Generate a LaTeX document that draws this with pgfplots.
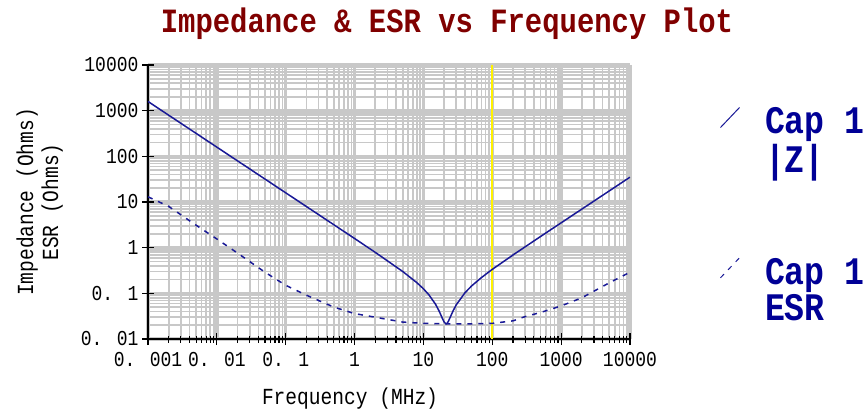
\documentclass[border=0pt]{standalone}
\usepackage{fontspec}
\setmainfont{Liberation Mono}[FakeStretch=0.85]
\usepackage{pgfplots}
\pgfplotsset{compat=1.18}
\definecolor{gridgray}{RGB}{200,200,200}
\definecolor{curveblue}{RGB}{25,25,150}
\definecolor{titlered}{RGB}{128,0,0}
\definecolor{legblue}{RGB}{0,0,150}

\begin{document}
\begin{tikzpicture}
\begin{axis}[
    at={(0,0)}, anchor=south west,
    scale only axis, width=482pt, height=274pt,
    xmode=log, ymode=log,
    xmin=0.001, xmax=10000, ymin=0.01, ymax=10000,
    axis x line*=bottom, axis y line*=left,
    axis line style={black, line width=1.3pt},
    xtick={0.001,0.01,0.1,1,10,100,1000,10000},
    xticklabels={0. 001,0. 01,0. 1,1,10,100,1000,10000},
    ytick={0.01,0.1,1,10,100,1000,10000},
    yticklabels={0. 01,0. 1,1,10,100,1000,10000},
    minor xtick={0.002,0.003,0.004,0.005,0.006,0.007,0.008,0.009,
        0.02,0.03,0.04,0.05,0.06,0.07,0.08,0.09,
        0.2,0.3,0.4,0.5,0.6,0.7,0.8,0.9,
        2,3,4,5,6,7,8,9,
        20,30,40,50,60,70,80,90,
        200,300,400,500,600,700,800,900,
        2000,3000,4000,5000,6000,7000,8000,9000},
    minor ytick={0.02,0.03,0.04,0.05,0.06,0.07,0.08,0.09,
        0.2,0.3,0.4,0.5,0.6,0.7,0.8,0.9,
        2,3,4,5,6,7,8,9,
        20,30,40,50,60,70,80,90,
        200,300,400,500,600,700,800,900,
        2000,3000,4000,5000,6000,7000,8000,9000},
    grid=both,
    major grid style={gridgray, line width=3.5pt},
    minor grid style={gridgray, line width=1.6pt},
    tick align=center,
    major tick length=12pt, minor tick length=7pt,
    every tick/.append style={black, line width=1.2pt},
    minor y tick style={draw=none},
    tick label style={font=\fontsize{21.2}{22}\selectfont},
    xticklabel style={yshift=-4pt},
    xlabel={Frequency (MHz)},
    ylabel={Impedance (Ohms)\\ESR (Ohms)},
    label style={font=\fontsize{23}{25}\selectfont},
    xlabel style={xshift=-39pt, yshift=-14pt},
    ylabel style={align=center, yshift=11pt},
    legend style={draw=none, fill=none, at={(1,1)}, anchor=north west,
        xshift=90pt, yshift=-42pt, inner sep=0pt, outer sep=0pt,
        row sep=122pt, column sep=25pt, nodes={inner sep=0pt},
        font=\fontsize{39}{36}\selectfont\bfseries, text=legblue},
    legend cell align=left,
    legend image code/.code={\draw[#1, line width=1pt] (0pt,-6pt) -- (19pt,14pt);},
]
% marker line at 100 MHz
\addplot[yellow, line width=2pt, forget plot] coordinates {(100,0.01) (100,10000)};

% |Z|
\addplot[curveblue, line width=1.5pt] table {
f z
0.001 1590
0.002 795
0.005 318
0.01 159
0.02 79.5
0.05 31.8
0.1 15.9
0.2 7.95
0.5 3.18
1 1.587
2 0.789
5 0.301
8 0.172
10 0.126
12 0.093
15 0.0577
17 0.0402
19 0.0275
20 0.0235
21.3 0.0215
22 0.022
23 0.0243
25 0.0321
27 0.0416
30 0.0562
40 0.1023
50 0.145
70 0.223
100 0.335
200 0.692
500 1.75
1000 3.5
2000 7.0
5000 17.5
10000 35
};
\addlegendentry{\begin{tabular}[t]{@{}l@{}}Cap 1\\|Z|\end{tabular}}

% ESR
\addplot[curveblue, line width=1.5pt, dash pattern=on 5pt off 6pt] table {
f r
0.001 13
0.002 8
0.005 3.1
0.01 1.55
0.02 0.76
0.05 0.29
0.1 0.15
0.2 0.091
0.5 0.050
1 0.036
2 0.030
5 0.0235
10 0.022
20 0.0215
50 0.0215
100 0.022
200 0.025
300 0.031
500 0.038
1000 0.053
2000 0.08
5000 0.17
10000 0.29
};
\addlegendentry{\begin{tabular}[t]{@{}l@{}}Cap 1\\ESR\end{tabular}}
\end{axis}

\node[anchor=base, font=\fontsize{34}{36}\selectfont\bfseries, text=titlered]
    at (299pt,306pt) {Impedance \& ESR vs Frequency Plot};

\pgfresetboundingbox
\useasboundingbox (-148pt,-69pt) rectangle (718pt,339pt);
\end{tikzpicture}
\end{document}
